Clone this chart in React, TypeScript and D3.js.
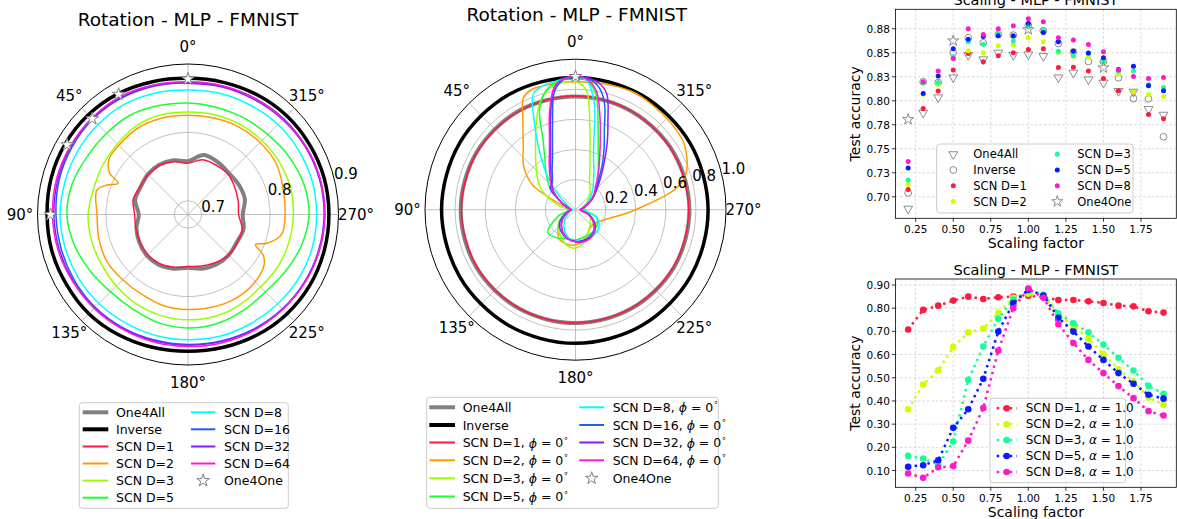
import React from "react";
import * as d3 from "d3";

const W = 1177;
const H = 519;
const FONT = "DejaVu Sans, Verdana, sans-serif";

// ---------------- polar data (angles in degrees, counter-clockwise from top) ----------------
const THETA_TICKS = [0, 45, 90, 135, 180, 225, 270, 315];
const THETA_LABELS = ["0°", "45°", "90°", "135°", "180°", "225°", "270°", "315°"];

// left polar: rotation, SCN trained on all angles
const LEFT_ANG = [0, 15, 30, 45, 60, 75, 90, 105, 120, 135, 150, 165, 180, 195, 210, 225, 240, 255, 270, 285, 300, 315, 330, 345];
const L_ONE4ALL = [0.758, 0.762, 0.764, 0.763, 0.76, 0.76, 0.752, 0.758, 0.762, 0.765, 0.765, 0.762, 0.758, 0.762, 0.764, 0.764, 0.762, 0.764, 0.76, 0.766, 0.766, 0.765, 0.768, 0.77];
const L_INVERSE = [0.879, 0.881, 0.884, 0.886, 0.887, 0.887, 0.886, 0.886, 0.885, 0.885, 0.883, 0.881, 0.88, 0.881, 0.883, 0.885, 0.886, 0.886, 0.886, 0.886, 0.885, 0.884, 0.882, 0.88];
const L_D1 = [0.755, 0.76, 0.763, 0.762, 0.761, 0.763, 0.758, 0.759, 0.761, 0.763, 0.763, 0.76, 0.756, 0.758, 0.761, 0.764, 0.763, 0.762, 0.754, 0.756, 0.759, 0.763, 0.763, 0.763];
const L_D2_ANG = [0, 15, 30, 45, 55, 62, 66, 70, 75, 90, 105, 120, 135, 150, 165, 180, 195, 210, 225, 237, 242, 246, 250, 258, 270, 285, 300, 315, 330, 345];
const L_D2 = [0.825, 0.826, 0.826, 0.823, 0.821, 0.81, 0.792, 0.806, 0.818, 0.813, 0.815, 0.817, 0.815, 0.815, 0.818, 0.819, 0.82, 0.821, 0.819, 0.813, 0.804, 0.788, 0.803, 0.82, 0.822, 0.824, 0.829, 0.829, 0.828, 0.826];
const L_D3 = [0.83, 0.831, 0.83, 0.826, 0.824, 0.823, 0.826, 0.826, 0.826, 0.828, 0.831, 0.833, 0.834, 0.834, 0.832, 0.83, 0.832, 0.833, 0.834, 0.835, 0.834, 0.833, 0.832, 0.831];
const L_D5 = [0.843, 0.845, 0.848, 0.848, 0.85, 0.855, 0.857, 0.852, 0.845, 0.84, 0.84, 0.844, 0.846, 0.845, 0.842, 0.84, 0.845, 0.852, 0.857, 0.855, 0.85, 0.845, 0.843, 0.842];
const L_D8 = [0.862, 0.864, 0.866, 0.866, 0.866, 0.866, 0.867, 0.866, 0.865, 0.864, 0.863, 0.863, 0.863, 0.864, 0.864, 0.865, 0.867, 0.868, 0.868, 0.868, 0.867, 0.866, 0.864, 0.863];
const L_D16 = [0.873, 0.874, 0.876, 0.877, 0.876, 0.875, 0.873, 0.872, 0.872, 0.872, 0.871, 0.87, 0.87, 0.871, 0.873, 0.875, 0.877, 0.879, 0.88, 0.88, 0.879, 0.878, 0.876, 0.874];
const L_D32 = [0.872, 0.875, 0.877, 0.878, 0.878, 0.877, 0.876, 0.875, 0.874, 0.873, 0.872, 0.871, 0.871, 0.872, 0.874, 0.876, 0.877, 0.878, 0.879, 0.879, 0.878, 0.876, 0.874, 0.873];
const L_D64 = [0.874, 0.876, 0.879, 0.879, 0.879, 0.879, 0.878, 0.877, 0.875, 0.874, 0.873, 0.873, 0.873, 0.874, 0.875, 0.876, 0.878, 0.879, 0.88, 0.88, 0.879, 0.877, 0.876, 0.875];
const L_STAR_ANG = [0, 30, 45, 60, 90];
const L_STAR = [0.878, 0.883, 0.878, 0.884, 0.881];
const L_R_TICKS = [0.7, 0.8, 0.9];
const L_R_LABELS = ["0.7", "0.8", "0.9"];

// middle polar: rotation, SCN fixed at phi = 0
const MID_CIRC_ANG = [0, 30, 60, 90, 120, 150, 180, 210, 240, 270, 300, 330];
const M_ONE4ALL = [0.752, 0.757, 0.76, 0.763, 0.762, 0.757, 0.753, 0.755, 0.758, 0.757, 0.755, 0.752];
const M_INVERSE = [0.879, 0.884, 0.888, 0.89, 0.889, 0.888, 0.888, 0.887, 0.884, 0.881, 0.88, 0.879];
const M_D1 = [0.755, 0.755, 0.757, 0.758, 0.757, 0.754, 0.752, 0.752, 0.754, 0.752, 0.752, 0.753];
const MID_ANG = [0, 5, 10, 15, 20, 25, 30, 40, 50, 60, 75, 90, 110, 130, 150, 165, 180, 195, 210, 230, 250, 270, 285, 300, 310, 320, 330, 335, 340, 345, 350, 355];
const M_D2 = [0.85, 0.85, 0.85, 0.85, 0.85, 0.82, 0.7, 0.54, 0.45, 0.33, 0.07, 0.03, 0.06, 0.14, 0.22, 0.235, 0.235, 0.21, 0.17, 0.15, 0.2, 0.4, 0.74, 0.84, 0.855, 0.86, 0.87, 0.87, 0.865, 0.86, 0.855, 0.85];
const M_D3 = [0.85, 0.85, 0.84, 0.8, 0.72, 0.62, 0.53, 0.41, 0.33, 0.26, 0.12, 0.05, 0.08, 0.15, 0.2, 0.24, 0.255, 0.22, 0.17, 0.13, 0.1, 0.04, 0.05, 0.08, 0.11, 0.15, 0.19, 0.22, 0.28, 0.37, 0.55, 0.8];
const M_D5 = [0.88, 0.87, 0.85, 0.8, 0.7, 0.51, 0.41, 0.3, 0.22, 0.12, 0.05, 0.04, 0.12, 0.24, 0.22, 0.2, 0.2, 0.19, 0.19, 0.18, 0.15, 0.06, 0.06, 0.11, 0.16, 0.23, 0.3, 0.36, 0.44, 0.58, 0.78, 0.86];
const M_D8 = [0.884, 0.875, 0.86, 0.85, 0.82, 0.65, 0.5, 0.29, 0.14, 0.06, 0.03, 0.02, 0.04, 0.09, 0.15, 0.19, 0.21, 0.215, 0.21, 0.2, 0.15, 0.05, 0.05, 0.09, 0.13, 0.18, 0.24, 0.29, 0.35, 0.47, 0.72, 0.86];
const M_D16 = [0.88, 0.87, 0.8, 0.59, 0.447, 0.362, 0.31, 0.24, 0.22, 0.12, 0.05, 0.03, 0.07, 0.14, 0.18, 0.2, 0.21, 0.21, 0.2, 0.17, 0.1, 0.04, 0.06, 0.12, 0.17, 0.23, 0.36, 0.45, 0.56, 0.74, 0.84, 0.875];
const M_D32 = [0.885, 0.875, 0.82, 0.64, 0.486, 0.393, 0.33, 0.25, 0.19, 0.12, 0.06, 0.03, 0.06, 0.12, 0.17, 0.2, 0.213, 0.215, 0.21, 0.17, 0.09, 0.03, 0.06, 0.12, 0.17, 0.25, 0.39, 0.5, 0.63, 0.8, 0.86, 0.88];
const M_D64 = [0.885, 0.875, 0.82, 0.667, 0.505, 0.41, 0.35, 0.26, 0.2, 0.12, 0.05, 0.03, 0.06, 0.12, 0.17, 0.2, 0.215, 0.22, 0.21, 0.16, 0.09, 0.03, 0.05, 0.11, 0.16, 0.21, 0.31, 0.38, 0.48, 0.63, 0.8, 0.87];
const M_STAR_ANG = [0];
const M_STAR = [0.885];
const M_R_TICKS = [0.2, 0.4, 0.6, 0.8, 1.0];
const M_R_LABELS = ["0.2", "0.4", "0.6", "0.8", "1.0"];

// ---------------- scaling data ----------------
const SCALE_X = [0.2, 0.3, 0.4, 0.5, 0.6, 0.7, 0.8, 0.9, 1.0, 1.1, 1.2, 1.3, 1.4, 1.5, 1.6, 1.7, 1.8, 1.9];
const S_ONE4ALL = [0.6875, 0.7875, 0.8035, 0.8243, 0.8476, 0.8431, 0.85, 0.8476, 0.8483, 0.8465, 0.8243, 0.8292, 0.8222, 0.8188, 0.8101, 0.8094, 0.7913, 0.7854];
const S_INVERSE = [0.704, 0.8198, 0.819, 0.8503, 0.8656, 0.8604, 0.869, 0.8684, 0.8788, 0.873, 0.8597, 0.851, 0.841, 0.841, 0.824, 0.8024, 0.8021, 0.7625];
const S_D1 = [0.7076, 0.792, 0.8101, 0.832, 0.8493, 0.8406, 0.8469, 0.85, 0.8535, 0.8542, 0.8347, 0.835, 0.8309, 0.8233, 0.8104, 0.809, 0.7858, 0.7813];
const S_D2 = [0.7128, 0.8066, 0.817, 0.8437, 0.8521, 0.85, 0.8573, 0.858, 0.866, 0.8615, 0.8503, 0.8465, 0.8458, 0.8389, 0.8278, 0.809, 0.8066, 0.8045];
const S_D3 = [0.7174, 0.819, 0.819, 0.8458, 0.8615, 0.859, 0.8712, 0.8622, 0.8788, 0.8736, 0.8517, 0.8469, 0.8493, 0.841, 0.831, 0.8309, 0.817, 0.8139];
const S_D5 = [0.7299, 0.8076, 0.8257, 0.8542, 0.8642, 0.867, 0.8677, 0.8677, 0.8806, 0.8712, 0.8615, 0.8517, 0.8497, 0.8448, 0.8326, 0.8361, 0.8156, 0.8104];
const S_D8 = [0.7368, 0.8198, 0.8309, 0.844, 0.875, 0.869, 0.875, 0.8781, 0.8854, 0.8823, 0.8656, 0.8632, 0.8587, 0.851, 0.832, 0.8253, 0.8233, 0.8243];
const S_ONE4ONE_X = [0.2, 0.5, 1.0, 1.5];
const S_ONE4ONE = [0.7806, 0.8625, 0.8743, 0.8344];

const A_D1 = [0.708, 0.7925, 0.811, 0.8326, 0.8498, 0.8398, 0.847, 0.85, 0.854, 0.848, 0.8355, 0.8355, 0.8295, 0.8225, 0.811, 0.808, 0.7865, 0.781];
const A_D2 = [0.364, 0.471, 0.532, 0.632, 0.695, 0.712, 0.78, 0.845, 0.862, 0.855, 0.773, 0.722, 0.668, 0.603, 0.536, 0.485, 0.415, 0.384];
const A_D3 = [0.163, 0.152, 0.126, 0.225, 0.491, 0.635, 0.754, 0.837, 0.875, 0.858, 0.778, 0.735, 0.696, 0.643, 0.586, 0.531, 0.465, 0.431];
const A_D5 = [0.116, 0.123, 0.144, 0.284, 0.364, 0.496, 0.699, 0.822, 0.88, 0.855, 0.759, 0.699, 0.635, 0.577, 0.52, 0.474, 0.427, 0.41];
const A_D8 = [0.087, 0.0685, 0.114, 0.119, 0.229, 0.3695, 0.6176, 0.8, 0.885, 0.845, 0.731, 0.65, 0.577, 0.52, 0.464, 0.412, 0.356, 0.337];

const X_TICKS = [0.25, 0.5, 0.75, 1.0, 1.25, 1.5, 1.75];
const X_TICK_LABELS = ["0.25", "0.50", "0.75", "1.00", "1.25", "1.50", "1.75"];
const YS_TICKS = [0.7, 0.725, 0.75, 0.775, 0.8, 0.825, 0.85, 0.875];
const YS_TICK_LABELS = ["0.70", "0.73", "0.75", "0.78", "0.80", "0.83", "0.85", "0.88"];
const YA_TICKS = [0.1, 0.2, 0.3, 0.4, 0.5, 0.6, 0.7, 0.8, 0.9];
const YA_TICK_LABELS = ["0.10", "0.20", "0.30", "0.40", "0.50", "0.60", "0.70", "0.80", "0.90"];

// ---------------- colours ----------------
const C = {
  gray: "#808080",
  d1: "#ff1744",
  d2: "#ff9a00",
  d3: "#99ff00",
  d5: "#1aff2e",
  d8: "#00ffff",
  d16: "#1a5cff",
  d32: "#8c1aff",
  d64: "#ff1ad9",
};
const RC = { d1: "#ff1a40", d2: "#ccff00", d3: "#14ff9c", d5: "#0a1aff", d8: "#ff1ac6" };

const toRad = (a: number) => (-a * Math.PI) / 180;

type PSeries = { ang: number[]; val: number[]; color: string; width: number };

function Polar(props: {
  cx: number; cy: number; R: number; domain: [number, number];
  rTicks: number[]; rLabels: string[]; title: string; titleX: number; titleY: number;
  series: PSeries[]; starAng: number[]; starVal: number[];
}) {
  const { cx, cy, R, domain, rTicks, rLabels, series, starAng, starVal } = props;
  const r = d3.scaleLinear().domain(domain).range([0, R]);
  const line = d3.lineRadial<[number, number]>().curve(d3.curveCatmullRomClosed.alpha(0.5));
  const star = d3.symbol().type(d3.symbolStar).size(48)();
  const labAng = (14 * Math.PI) / 180;
  return (
    <g>
      <g transform={`translate(${cx},${cy})`}>
        {rTicks.filter((t) => r(t) < R - 1).map((t, i) => (
          <circle key={i} r={r(t)} fill="none" stroke="#b0b0b0" strokeWidth={0.8} />
        ))}
        {THETA_TICKS.map((a, i) => {
          const [x, y] = d3.pointRadial(toRad(a), R);
          return <line key={i} x1={0} y1={0} x2={x} y2={y} stroke="#b0b0b0" strokeWidth={0.8} />;
        })}
        {series.map((s, i) => {
          const pts = s.ang.map((a, j) => [toRad(a), r(s.val[j])] as [number, number]);
          return (
            <path key={i} d={line(pts) || ""} fill="none" stroke={s.color} strokeWidth={s.width} strokeLinejoin="round" />
          );
        })}
        {starAng.map((a, i) => {
          const [x, y] = d3.pointRadial(toRad(a), r(starVal[i]));
          return <path key={i} d={star || ""} transform={`translate(${x},${y})`} fill="#ffffff" stroke={C.gray} strokeWidth={1} />;
        })}
        <circle r={R} fill="none" stroke="#000" strokeWidth={1} />
        {THETA_TICKS.map((a, i) => {
          const [x, y] = d3.pointRadial(toRad(a), R + 17.5);
          return (
            <text key={i} x={x} y={y} textAnchor="middle" dominantBaseline="central" fontSize={15}>{THETA_LABELS[i]}</text>
          );
        })}
        {rTicks.map((t, i) => {
          const rr = r(t);
          return (
            <text key={i} x={rr * Math.cos(labAng)} y={-rr * Math.sin(labAng) - 4.5} dominantBaseline="central" fontSize={15}>{rLabels[i]}</text>
          );
        })}
      </g>
      <text x={props.titleX} y={props.titleY} textAnchor="middle" fontSize={18.5}>{props.title}</text>
    </g>
  );
}

type LegItem = { label: React.ReactNode; color: string; width: number; star?: boolean };

function PolarLegend(props: {
  box: [number, number, number, number]; col1: [number, number, number]; col2: [number, number, number];
  rows: number[]; items1: LegItem[]; items2: LegItem[];
}) {
  const { box, col1, col2, rows } = props;
  const star = d3.symbol().type(d3.symbolStar).size(48)();
  const draw = (items: LegItem[], col: [number, number, number]) =>
    items.map((it, i) => (
      <g key={i}>
        {it.star ? (
          <path d={star || ""} transform={`translate(${(col[0] + col[1]) / 2},${rows[i]})`} fill="#fff" stroke={C.gray} strokeWidth={1} />
        ) : (
          <line x1={col[0]} x2={col[1]} y1={rows[i]} y2={rows[i]} stroke={it.color} strokeWidth={it.width} />
        )}
        <text x={col[2]} y={rows[i]} dominantBaseline="central" fontSize={12.5}>{it.label}</text>
      </g>
    ));
  return (
    <g>
      <rect x={box[0]} y={box[1]} width={box[2] - box[0]} height={box[3] - box[1]} rx={3} fill="#fff" fillOpacity={0.8} stroke="#cccccc" strokeWidth={1} />
      {draw(props.items1, col1)}
      {draw(props.items2, col2)}
    </g>
  );
}

const phiLabel = (d: string) => (
  <>
    {`SCN D=${d}, `}
    <tspan fontStyle="italic">ϕ</tspan>
    {" = 0"}
    <tspan fontSize={8.5} dy={-5}>∘</tspan>
  </>
);

// ---------------- right plots ----------------
const X_DOMAIN = (() => {
  const [a, b] = d3.extent(SCALE_X) as [number, number];
  const p = (b - a) * 0.05;
  return [a - p, b + p];
})();
const xScale = d3.scaleLinear().domain(X_DOMAIN).range([895.4, 1176.3]);

function padDomain(arrs: number[][]) {
  const all = arrs.flat();
  const [a, b] = d3.extent(all) as [number, number];
  const p = (b - a) * 0.05;
  return [a - p, b + p];
}

function Axes(props: {
  y: d3.ScaleLinear<number, number>; yTicks: number[]; yLabels: string[];
  top: number; bottom: number; title: string; titleY: number; xLabelY: number; children?: React.ReactNode;
}) {
  const { y, yTicks, yLabels, top, bottom } = props;
  const left = xScale.range()[0];
  const right = xScale.range()[1];
  return (
    <g>
      {X_TICKS.map((t, i) => (
        <line key={"gx" + i} x1={xScale(t)} x2={xScale(t)} y1={top} y2={bottom} stroke="#c8c8c8" strokeWidth={0.7} strokeDasharray="2.5 2" />
      ))}
      {yTicks.map((t, i) => (
        <line key={"gy" + i} x1={left} x2={right} y1={y(t)} y2={y(t)} stroke="#c8c8c8" strokeWidth={0.7} strokeDasharray="2.5 2" />
      ))}
      {props.children}
      <rect x={left} y={top} width={right - left} height={bottom - top} fill="none" stroke="#000" strokeWidth={0.8} />
      {X_TICKS.map((t, i) => (
        <g key={"tx" + i}>
          <line x1={xScale(t)} x2={xScale(t)} y1={bottom} y2={bottom + 3.5} stroke="#000" strokeWidth={0.8} />
          <text x={xScale(t)} y={bottom + 11} textAnchor="middle" dominantBaseline="central" fontSize={10.5}>{X_TICK_LABELS[i]}</text>
        </g>
      ))}
      {yTicks.map((t, i) => (
        <g key={"ty" + i}>
          <line x1={left - 3.5} x2={left} y1={y(t)} y2={y(t)} stroke="#000" strokeWidth={0.8} />
          <text x={left - 5.5} y={y(t)} textAnchor="end" dominantBaseline="central" fontSize={10.5}>{yLabels[i]}</text>
        </g>
      ))}
      <text x={(left + right) / 2} y={props.xLabelY} textAnchor="middle" dominantBaseline="central" fontSize={14}>Scaling factor</text>
      <text transform={`translate(855,${(top + bottom) / 2}) rotate(-90)`} textAnchor="middle" dominantBaseline="central" fontSize={14}>Test accuracy</text>
      <text x={(left + right) / 2} y={props.titleY} textAnchor="middle" fontSize={14.5}>{props.title}</text>
    </g>
  );
}

function ScatterPlot() {
  const y = d3.scaleLinear().domain(padDomain([S_ONE4ALL, S_INVERSE, S_D1, S_D2, S_D3, S_D5, S_D8, S_ONE4ONE])).range([218.3, 9.3]);
  const tri = d3.symbol().type(d3.symbolTriangle).size(34)();
  const star = d3.symbol().type(d3.symbolStar).size(38)();
  const dots: [number[], string][] = [[S_D1, RC.d1], [S_D2, RC.d2], [S_D3, RC.d3], [S_D5, RC.d5], [S_D8, RC.d8]];
  const legRows = [154.3, 170, 185.7, 201.5];
  const c1 = 953.3, t1 = 973.3, c2 = 1057.3, t2 = 1077.3;
  return (
    <Axes y={y} yTicks={YS_TICKS} yLabels={YS_TICK_LABELS} top={9.3} bottom={218.3} title="Scaling - MLP - FMNIST" titleY={5} xLabelY={243.3}>
      {SCALE_X.map((xv, i) => (
        <path key={"t" + i} d={tri || ""} transform={`translate(${xScale(xv)},${y(S_ONE4ALL[i])}) rotate(180)`} fill="none" stroke={C.gray} strokeWidth={0.9} />
      ))}
      {SCALE_X.map((xv, i) => (
        <circle key={"c" + i} cx={xScale(xv)} cy={y(S_INVERSE[i])} r={3.4} fill="none" stroke={C.gray} strokeWidth={0.9} />
      ))}
      {dots.map(([arr, col], k) =>
        SCALE_X.map((xv, i) => <circle key={k + "-" + i} cx={xScale(xv)} cy={y(arr[i])} r={2.5} fill={col} />)
      )}
      {S_ONE4ONE_X.map((xv, i) => (
        <path key={"s" + i} d={star || ""} transform={`translate(${xScale(xv)},${y(S_ONE4ONE[i])})`} fill="none" stroke={C.gray} strokeWidth={0.9} />
      ))}
      <rect x={936.7} y={144} width={196.3} height={69} rx={3} fill="#fff" fillOpacity={0.8} stroke="#cccccc" />
      <path d={tri || ""} transform={`translate(${c1},${legRows[0]}) rotate(180)`} fill="none" stroke={C.gray} strokeWidth={0.9} />
      <circle cx={c1} cy={legRows[1]} r={3.4} fill="none" stroke={C.gray} strokeWidth={0.9} />
      <circle cx={c1} cy={legRows[2]} r={2.5} fill={RC.d1} />
      <circle cx={c1} cy={legRows[3]} r={2.5} fill={RC.d2} />
      <circle cx={c2} cy={legRows[0]} r={2.5} fill={RC.d3} />
      <circle cx={c2} cy={legRows[1]} r={2.5} fill={RC.d5} />
      <circle cx={c2} cy={legRows[2]} r={2.5} fill={RC.d8} />
      <path d={star || ""} transform={`translate(${c2},${legRows[3]})`} fill="none" stroke={C.gray} strokeWidth={0.9} />
      {["One4All", "Inverse", "SCN D=1", "SCN D=2"].map((t, i) => (
        <text key={"l1" + i} x={t1} y={legRows[i]} dominantBaseline="central" fontSize={11.5}>{t}</text>
      ))}
      {["SCN D=3", "SCN D=5", "SCN D=8", "One4One"].map((t, i) => (
        <text key={"l2" + i} x={t2} y={legRows[i]} dominantBaseline="central" fontSize={11.5}>{t}</text>
      ))}
    </Axes>
  );
}

function LinePlot() {
  const y = d3.scaleLinear().domain(padDomain([A_D1, A_D2, A_D3, A_D5, A_D8])).range([487.3, 279]);
  const series: [number[], string, string][] = [[A_D1, RC.d1, "1"], [A_D2, RC.d2, "2"], [A_D3, RC.d3, "3"], [A_D5, RC.d5, "5"], [A_D8, RC.d8, "8"]];
  const line = d3.line<number>().x((_, i) => xScale(SCALE_X[i])).y((v) => y(v));
  const legRows = [408.3, 424.3, 440, 456, 472];
  return (
    <Axes y={y} yTicks={YA_TICKS} yLabels={YA_TICK_LABELS} top={279} bottom={487.3} title="Scaling - MLP - FMNIST" titleY={274.5} xLabelY={511.7}>
      {series.map(([arr, col], k) => (
        <g key={k}>
          <path d={line(arr) || ""} fill="none" stroke={col} strokeWidth={2.5} strokeDasharray="2.5 4" />
          {arr.map((v, i) => <circle key={i} cx={xScale(SCALE_X[i])} cy={y(v)} r={3.3} fill={col} />)}
        </g>
      ))}
      <rect x={990} y={398.3} width={135.7} height={84.4} rx={3} fill="#fff" fillOpacity={0.8} stroke="#cccccc" />
      {series.map(([, col, d], i) => (
        <g key={"lg" + i}>
          <line x1={996.7} x2={1016.7} y1={legRows[i]} y2={legRows[i]} stroke={col} strokeWidth={2.5} strokeDasharray="2.5 4" />
          <circle cx={1006.7} cy={legRows[i]} r={3.3} fill={col} />
          <text x={1025.7} y={legRows[i]} dominantBaseline="central" fontSize={12}>
            {`SCN D=${d}, `}
            <tspan fontStyle="italic">α</tspan>
            {" = 1.0"}
          </text>
        </g>
      ))}
    </Axes>
  );
}

export default function App() {
  const leftSeries: PSeries[] = [
    { ang: LEFT_ANG, val: L_ONE4ALL, color: C.gray, width: 4 },
    { ang: LEFT_ANG, val: L_INVERSE, color: "#000", width: 3.5 },
    { ang: LEFT_ANG, val: L_D1, color: C.d1, width: 1.5 },
    { ang: L_D2_ANG, val: L_D2, color: C.d2, width: 1.5 },
    { ang: LEFT_ANG, val: L_D3, color: C.d3, width: 1.5 },
    { ang: LEFT_ANG, val: L_D5, color: C.d5, width: 1.5 },
    { ang: LEFT_ANG, val: L_D8, color: C.d8, width: 1.5 },
    { ang: LEFT_ANG, val: L_D16, color: C.d16, width: 1.5 },
    { ang: LEFT_ANG, val: L_D32, color: C.d32, width: 1.5 },
    { ang: LEFT_ANG, val: L_D64, color: C.d64, width: 1.5 },
  ];
  const midSeries: PSeries[] = [
    { ang: MID_CIRC_ANG, val: M_ONE4ALL, color: C.gray, width: 4 },
    { ang: MID_CIRC_ANG, val: M_INVERSE, color: "#000", width: 3.5 },
    { ang: MID_CIRC_ANG, val: M_D1, color: C.d1, width: 1.5 },
    { ang: MID_ANG, val: M_D2, color: C.d2, width: 1.5 },
    { ang: MID_ANG, val: M_D3, color: C.d3, width: 1.5 },
    { ang: MID_ANG, val: M_D5, color: C.d5, width: 1.5 },
    { ang: MID_ANG, val: M_D8, color: C.d8, width: 1.5 },
    { ang: MID_ANG, val: M_D16, color: C.d16, width: 1.5 },
    { ang: MID_ANG, val: M_D32, color: C.d32, width: 1.5 },
    { ang: MID_ANG, val: M_D64, color: C.d64, width: 1.5 },
  ];
  const baseItems1: LegItem[] = [
    { label: "One4All", color: C.gray, width: 4 },
    { label: "Inverse", color: "#000", width: 4 },
  ];
  const leftItems1: LegItem[] = [
    ...baseItems1,
    { label: "SCN D=1", color: C.d1, width: 2 },
    { label: "SCN D=2", color: C.d2, width: 2 },
    { label: "SCN D=3", color: C.d3, width: 2 },
    { label: "SCN D=5", color: C.d5, width: 2 },
  ];
  const leftItems2: LegItem[] = [
    { label: "SCN D=8", color: C.d8, width: 2 },
    { label: "SCN D=16", color: C.d16, width: 2 },
    { label: "SCN D=32", color: C.d32, width: 2 },
    { label: "SCN D=64", color: C.d64, width: 2 },
    { label: "One4One", color: C.gray, width: 1, star: true },
  ];
  const midItems1: LegItem[] = [
    ...baseItems1,
    { label: phiLabel("1"), color: C.d1, width: 2 },
    { label: phiLabel("2"), color: C.d2, width: 2 },
    { label: phiLabel("3"), color: C.d3, width: 2 },
    { label: phiLabel("5"), color: C.d5, width: 2 },
  ];
  const midItems2: LegItem[] = [
    { label: phiLabel("8"), color: C.d8, width: 2 },
    { label: phiLabel("16"), color: C.d16, width: 2 },
    { label: phiLabel("32"), color: C.d32, width: 2 },
    { label: phiLabel("64"), color: C.d64, width: 2 },
    { label: "One4One", color: C.gray, width: 1, star: true },
  ];
  return (
    <svg width={W} height={H} style={{ position: "absolute", left: 0, top: 0, display: "block" }} fontFamily={FONT}>
      <rect width={W} height={H} fill="#fff" />
      <Polar cx={188} cy={214.5} R={150.5} domain={[0.68, 0.9]} rTicks={L_R_TICKS} rLabels={L_R_LABELS}
        title="Rotation - MLP - FMNIST" titleX={188} titleY={25.5} series={leftSeries} starAng={L_STAR_ANG} starVal={L_STAR} />
      <Polar cx={575.5} cy={209.7} R={150.5} domain={[0, 1.0]} rTicks={M_R_TICKS} rLabels={M_R_LABELS}
        title="Rotation - MLP - FMNIST" titleX={576.7} titleY={20.7} series={midSeries} starAng={M_STAR_ANG} starVal={M_STAR} />
      <PolarLegend box={[79.3, 402.7, 288.3, 508.3]} col1={[82.7, 108.3, 116]} col2={[191, 215.3, 224]}
        rows={[412.3, 429.3, 446.5, 463.5, 480.6, 497.7]} items1={leftItems1} items2={leftItems2} />
      <PolarLegend box={[426.7, 397.3, 718.3, 508.3]} col1={[429.3, 455, 462.7]} col2={[579.3, 604, 612.7]}
        rows={[407.3, 425, 442.5, 460.3, 478.3, 496.5]} items1={midItems1} items2={midItems2} />
      <ScatterPlot />
      <LinePlot />
    </svg>
  );
}
